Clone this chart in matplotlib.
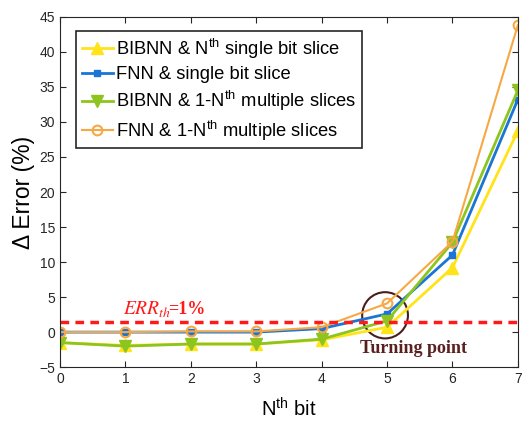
import matplotlib.pyplot as plt
from matplotlib.patches import Ellipse

plt.rcParams['font.family'] = ['Liberation Sans', 'DejaVu Sans']
plt.rcParams['mathtext.default'] = 'regular'
plt.rcParams['mathtext.fontset'] = 'stix'

# data
bits = [0, 1, 2, 3, 4, 5, 6, 7]
bibnn_single = [-1.5, -1.9, -1.7, -1.7, -1.1, 0.7, 9.2, 28.7]
fnn_single = [0.0, 0.0, 0.0, 0.0, 0.5, 2.6, 11.0, 33.2]
bibnn_multi = [-1.5, -2.0, -1.7, -1.7, -1.0, 1.6, 12.8, 34.5]
fnn_multi = [0.0, 0.0, 0.1, 0.1, 0.7, 4.1, 12.9, 43.8]
err_th = 1.5

fig = plt.figure(figsize=(5.22, 4.22), dpi=100)
ax = fig.add_axes([0.115, 0.130, 0.877, 0.830])

ax.plot(bits, bibnn_single, color='#FFE41A', marker='^', markersize=8,
        linewidth=2, label='BIBNN & N$^{th}$ single bit slice')
ax.plot(bits, fnn_single, color='#1A75D6', marker='s', markersize=4,
        linewidth=2, label='FNN & single bit slice')
ax.plot(bits, bibnn_multi, color='#8DC51E', marker='v', markersize=8,
        linewidth=2, label='BIBNN & 1-N$^{th}$ multiple slices')
ax.plot(bits, fnn_multi, color='#F7A845', marker='o', markersize=7,
        markerfacecolor='none', markeredgewidth=1.5,
        linewidth=1.5, label='FNN & 1-N$^{th}$ multiple slices')

ax.axhline(err_th, color='#FF1A1A', linestyle=(0, (2.5, 1.8)), linewidth=2.5)
ax.text(0.97, 2.6, r'$\mathit{ERR}_{\mathit{th}}$', color='#FF1A1A',
        fontsize=14)
ax.text(1.66, 2.6, '=1%', color='#FF1A1A', fontsize=13,
        family='Liberation Serif', fontweight='bold')

ax.add_patch(Ellipse((4.97, 2.4), 0.70, 6.6, fill=False,
                     edgecolor='#4A1E1E', linewidth=1.5))
ax.text(5.4, -2.4, 'Turning point', color='#5A2020', fontsize=13,
        family='Liberation Serif', fontweight='bold', ha='center', va='center')

ax.set_xlim(0, 7)
ax.set_ylim(-5, 45)
ax.set_xticks(bits)
ax.set_yticks(range(-5, 46, 5))
ax.tick_params(direction='in', top=True, right=True, labelsize=10,
               length=4, colors='#262626')
for s in ax.spines.values():
    s.set_color('#262626')

ax.set_xlabel('N$^{th}$ bit', fontsize=14.5, labelpad=8)
ax.set_ylabel('Δ Error (%)', fontsize=16.5, labelpad=3)

leg = ax.legend(loc='upper left', fontsize=13.2, handlelength=1.7,
                handletextpad=0.2, borderpad=0.3, labelspacing=0.3,
                fancybox=False, edgecolor='#262626', framealpha=1,
                bbox_to_anchor=(0.015, 0.985))
leg.get_frame().set_linewidth(1.2)

fig.savefig('out.png', dpi=100)
